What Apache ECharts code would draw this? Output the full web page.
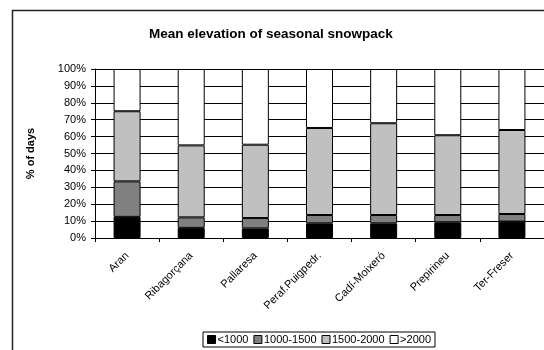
<!DOCTYPE html>
<html>
<head>
<meta charset="utf-8">
<script src="https://cdn.jsdelivr.net/npm/echarts@6/dist/echarts.min.js"></script>
<style>
  html, body { margin: 0; padding: 0; background: #fff; }
  #chart { width: 544px; height: 350px; }
</style>
</head>
<body>
<div id="chart"></div>
<script>
// Share of snow-covered days by elevation band, per region (%)
const regions = ['Aran', 'Ribagorçana', 'Pallaresa', 'Peraf.Puigpedr.', 'Cadí-Moixeró', 'Prepirineu', 'Ter-Freser'];
const below1000 = [12.5, 6.0, 5.7, 8.7, 8.7, 9.3, 9.7];
const band1000to1500 = [21.0, 6.2, 6.1, 4.9, 4.9, 4.3, 4.5];
const band1500to2000 = [41.5, 42.6, 43.4, 51.5, 54.3, 47.2, 49.7];
const above2000 = [25.0, 45.2, 44.8, 34.9, 32.1, 39.2, 36.1];
const seriesNames = ['<1000', '1000-1500', '1500-2000', '>2000'];
const seriesColors = ['#000000', '#808080', '#c0c0c0', '#ffffff'];
const yTicks = [0, 10, 20, 30, 40, 50, 60, 70, 80, 90, 100];

const font = 'Liberation Sans, Arial, sans-serif';
const chart = echarts.init(document.getElementById('chart'), null, { renderer: 'canvas' });

const values = [below1000, band1000to1500, band1500to2000, above2000];

chart.setOption({
  backgroundColor: '#ffffff',
  animation: false,
  title: {
    text: 'Mean elevation of seasonal snowpack',
    left: 144, top: 22,
    textStyle: { fontFamily: font, fontSize: 13.5, fontWeight: 'bold', color: '#000' }
  },
  graphic: [{
    type: 'rect',
    shape: { x: 12.5, y: 10.5, width: 600, height: 400 },
    style: { fill: 'none', stroke: '#222', lineWidth: 1.5 },
    silent: true, z: -1
  }],
  legend: {
    left: 203, top: 332,
    itemWidth: 8, itemHeight: 8, itemGap: 5,
    padding: [2, 4, 2, 4],
    borderColor: '#000', borderWidth: 1,
    icon: 'rect',
    textStyle: { fontFamily: font, fontSize: 11, color: '#000', padding: [0, 0, 0, -3] },
    data: seriesNames.map(n => ({ name: n, itemStyle: { borderColor: '#000', borderWidth: 1 } }))
  },
  grid: { left: 95, top: 69, width: 453, height: 169, containLabel: false },
  xAxis: {
    type: 'category',
    data: regions,
    axisLine: { lineStyle: { color: '#000', width: 1 } },
    axisTick: { show: true, length: 4, lineStyle: { color: '#000' } },
    axisLabel: { rotate: 45, margin: 16, fontFamily: font, fontSize: 11, color: '#000' },
    splitLine: { show: false }
  },
  yAxis: {
    type: 'value',
    min: 0, max: 100, interval: 10,
    name: '% of days',
    nameLocation: 'middle', nameGap: 59, nameRotate: 90,
    nameTextStyle: { fontFamily: font, fontSize: 11, fontWeight: 'bold', color: '#000' },
    axisLine: { show: true, lineStyle: { color: '#000' } },
    axisTick: { show: true, length: 4, lineStyle: { color: '#000' } },
    axisLabel: {
      margin: 9, fontFamily: font, fontSize: 11, color: '#000',
      customValues: yTicks,
      formatter: v => v + '%'
    },
    splitLine: { show: true, lineStyle: { color: '#000', width: 1 } }
  },
  series: values.map((arr, i) => ({
    name: seriesNames[i],
    type: 'bar',
    stack: 'total',
    barWidth: 27,
    data: arr,
    itemStyle: { color: seriesColors[i], borderColor: '#000', borderWidth: 1 }
  }))
});
</script>
</body>
</html>
